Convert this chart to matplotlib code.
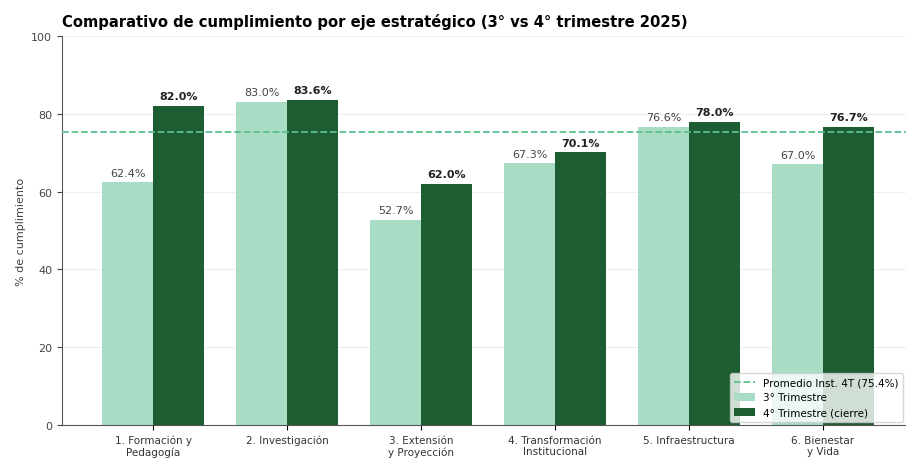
import matplotlib.pyplot as plt
import numpy as np

# Datos del grafico
ejes = ['1. Formación y\nPedagogía', '2. Investigación', '3. Extensión\ny Proyección',
        '4. Transformación\nInstitucional', '5. Infraestructura', '6. Bienestar\ny Vida']
t3 = [62.4, 83.0, 52.7, 67.3, 76.6, 67.0]
t4 = [82.0, 83.6, 62.0, 70.1, 78.0, 76.7]
promedio = 75.4

color_t3 = '#a8dcc4'
color_t4 = '#1c5e32'
color_prom = '#5cbf8e'

fig = plt.figure(figsize=(9.06, 4.64), dpi=100)
ax = fig.add_axes([62 / 906, 38 / 464, 844 / 906, 389 / 464])

x = np.arange(len(ejes))
w = 0.38
ax.bar(x - w / 2, t3, w, color=color_t3, label='3° Trimestre', zorder=2)
ax.bar(x + w / 2, t4, w, color=color_t4, label='4° Trimestre (cierre)', zorder=2)
ax.axhline(promedio, color=color_prom, linestyle='--', linewidth=1.3,
           label=f'Promedio Inst. 4T ({promedio}%)', zorder=3)

# Etiquetas sobre las barras
for i in range(len(ejes)):
    ax.text(x[i] - w / 2, t3[i] + 1.2, f'{t3[i]:.1f}%', ha='center', va='bottom',
            fontsize=8, color='#444444')
    ax.text(x[i] + w / 2, t4[i] + 1.2, f'{t4[i]:.1f}%', ha='center', va='bottom',
            fontsize=8, fontweight='bold', color='#222222')

ax.set_ylim(0, 100)
ax.set_xlim(-0.68, 5.62)
ax.set_xticks(x)
ax.set_xticklabels(ejes, fontsize=7.5, color='#333333')
ax.tick_params(axis='y', labelsize=8, colors='#444444')
ax.set_ylabel('% de cumplimiento', fontsize=8, color='#444444')
ax.yaxis.grid(True, color='#eeeeee', linewidth=0.8, zorder=0)
ax.set_axisbelow(True)
ax.spines['top'].set_visible(False)
ax.spines['right'].set_visible(False)
ax.spines['left'].set_color('#555555')
ax.spines['bottom'].set_color('#555555')

ax.set_title('Comparativo de cumplimiento por eje estratégico (3° vs 4° trimestre 2025)',
             loc='left', fontsize=10.6, fontweight='bold', pad=7)

ax.legend(loc='lower right', fontsize=7.5, frameon=True, framealpha=0.8,
          borderaxespad=0.3)

fig.savefig('out.png', dpi=100)
